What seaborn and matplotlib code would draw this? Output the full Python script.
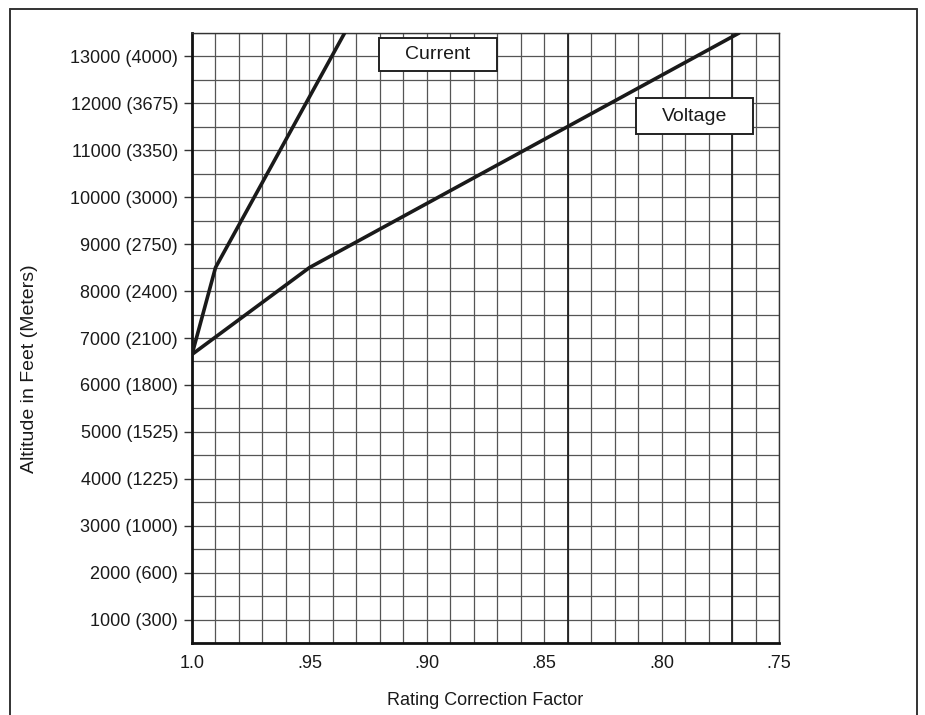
import matplotlib
matplotlib.use("Agg")
import matplotlib.pyplot as plt
from matplotlib.lines import Line2D
from matplotlib.patches import Rectangle
import seaborn as sns
import pandas as pd
import numpy as np

# ---- data ----
current_x = [1.00, 0.99, 0.935]
current_y = [6650, 8500, 13500]
voltage_x = [1.00, 0.95, 0.767]
voltage_y = [6650, 8500, 13500]

x_ticks = [1.00, 0.95, 0.90, 0.85, 0.80, 0.75]
x_tick_labels = ["1.0", ".95", ".90", ".85", ".80", ".75"]
y_ticks = [1000, 2000, 3000, 4000, 5000, 6000, 7000, 8000, 9000, 10000, 11000, 12000, 13000]
y_tick_labels = ["1000 (300)", "2000 (600)", "3000 (1000)", "4000 (1225)", "5000 (1525)",
                 "6000 (1800)", "7000 (2100)", "8000 (2400)", "9000 (2750)", "10000 (3000)",
                 "11000 (3350)", "12000 (3675)", "13000 (4000)"]

df = pd.DataFrame({
    "factor": current_x + voltage_x,
    "altitude": current_y + voltage_y,
    "series": ["Current"] * len(current_x) + ["Voltage"] * len(voltage_x),
})

sns.set_theme(style="white")
plt.rcParams["font.family"] = ["Liberation Sans", "DejaVu Sans"]

fig = plt.figure(figsize=(9.25, 7.15), dpi=100)
ax = fig.add_axes([192 / 925, 1 - 643 / 715, (779 - 192) / 925, (643 - 33) / 715])

# grid
ax.set_xlim(1.0, 0.75)
ax.set_ylim(500, 13500)
ax.set_xticks(x_ticks)
ax.set_xticklabels(x_tick_labels)
ax.set_xticks(np.round(np.arange(0.75, 1.0001, 0.01), 2), minor=True)
ax.set_yticks(y_ticks)
ax.set_yticklabels(y_tick_labels)
ax.set_yticks(np.arange(500, 13501, 500), minor=True)
ax.grid(True, which="both", color="#555555", linewidth=0.9)
ax.set_axisbelow(True)
for xv in [0.84, 0.77]:
    ax.axvline(xv, color="#222222", linewidth=1.3, zorder=1)

sns.lineplot(data=df, x="factor", y="altitude", hue="series",
             palette={"Current": "#1a1a1a", "Voltage": "#1a1a1a"},
             sort=False, estimator=None, linewidth=2.6, legend=False, ax=ax, zorder=3)

# label boxes
ax.add_patch(Rectangle((0.9204, 12680), 0.8701 - 0.9204, 13384 - 12680,
                       facecolor="white", edgecolor="#222222", linewidth=1.4, zorder=4))
ax.text(0.8952, 13050, "Current", ha="center", va="center", fontsize=14, color="#1a1a1a", zorder=5)
ax.add_patch(Rectangle((0.8109, 11338), 0.7611 - 0.8109, 12105 - 11338,
                       facecolor="white", edgecolor="#222222", linewidth=1.4, zorder=4))
ax.text(0.786, 11730, "Voltage", ha="center", va="center", fontsize=14, color="#1a1a1a", zorder=5)

# spines and ticks
for side in ["left", "bottom"]:
    ax.spines[side].set_linewidth(2.0)
    ax.spines[side].set_color("#111111")
for side in ["top", "right"]:
    ax.spines[side].set_linewidth(1.0)
    ax.spines[side].set_color("#333333")

ax.tick_params(axis="y", which="major", direction="out", length=6, width=1.0,
               color="#333333", pad=4, labelsize=13, labelcolor="#1a1a1a", left=True)
ax.tick_params(axis="x", which="major", length=0, pad=9, labelsize=13, labelcolor="#1a1a1a")
ax.tick_params(which="minor", length=0)

ax.set_xlabel("Rating Correction Factor", fontsize=13, color="#1a1a1a", labelpad=14)
ax.set_ylabel("Altitude in Feet (Meters)", fontsize=14, color="#1a1a1a")
ax.yaxis.set_label_coords(-0.262, 0.45)

# outer frame (open at the bottom)
fx0, fx1, fy1 = 10 / 925, 917 / 925, 1 - 9 / 715
for xs, ys in [([fx0, fx0], [-0.01, fy1]), ([fx0, fx1], [fy1, fy1]), ([fx1, fx1], [fy1, -0.01])]:
    fig.add_artist(Line2D(xs, ys, transform=fig.transFigure, color="#333333", linewidth=1.4))

fig.savefig("out.png", dpi=100)
